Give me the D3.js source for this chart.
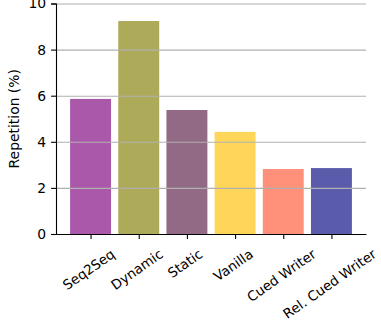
<!DOCTYPE html>
<html>
<head>
<meta charset="utf-8">
<script src="https://cdn.jsdelivr.net/npm/d3@7"></script>
<style>
  body { margin: 0; background: #fff; }
  text { font-family: "DejaVu Sans", sans-serif; fill: #000; }
</style>
</head>
<body>
<div class="canva"></div>
<script>
// chart data
const models = ['Seq2Seq', 'Dynamic', 'Static', 'Vanilla', 'Cued Writer', 'Rel. Cued Writer'];
const repetition = [5.86, 9.24, 5.38, 4.43, 2.82, 2.86];
const barColors = ['#aa58aa', '#adaa5a', '#926a86', '#ffd65a', '#ff917a', '#5a5baa'];
const yTicks = [0, 2, 4, 6, 8, 10];

const W = 381, H = 321;
const m = {left: 56, right: 15, top: 3.5, bottom: 87};
const fs = 13.9;

const svg = d3.select('.canva').append('svg')
  .attr('width', W)
  .attr('height', H);

// matplotlib style: bar width .85 + 5% margins
const bw = 0.85;
const lo = -bw / 2, hi = models.length - 1 + bw / 2, pad = 0.05 * (hi - lo);
const x = d3.scaleLinear().domain([lo - pad, hi + pad]).range([m.left, W - m.right]);
const y = d3.scaleLinear().domain([0, 10]).range([H - m.bottom, m.top]);

// bars
svg.selectAll('rect.bar')
  .data(repetition)
  .enter().append('rect')
  .attr('class', 'bar')
  .attr('x', (d, i) => x(i - bw / 2))
  .attr('width', x(bw) - x(0))
  .attr('y', d => y(d))
  .attr('height', d => y(0) - y(d))
  .attr('fill', (d, i) => barColors[i]);

// grid on top of bars
svg.append('g')
  .attr('transform', `translate(${m.left},0)`)
  .call(d3.axisRight(y).tickValues(yTicks.slice(1)).tickSize(W - m.right - m.left).tickFormat(''))
  .call(g => g.select('.domain').remove())
  .call(g => g.selectAll('line').attr('stroke', '#b0b0b0').attr('stroke-width', 1.1));

// y axis
svg.append('g')
  .attr('transform', `translate(${m.left},0)`)
  .call(d3.axisLeft(y).tickValues(yTicks).tickFormat(d3.format('d')).tickSize(4.9).tickPadding(4.9))
  .call(g => g.selectAll('text').attr('font-size', fs).style('font-family', 'DejaVu Sans'))
  .call(g => g.selectAll('line, path').attr('stroke', '#000').attr('stroke-width', 1.1));

// x axis
svg.append('g')
  .attr('transform', `translate(0,${y(0)})`)
  .call(d3.axisBottom(x).tickValues(d3.range(models.length)).tickFormat('').tickSize(4.9).tickSizeOuter(0))
  .call(g => g.selectAll('line, path').attr('stroke', '#000').attr('stroke-width', 1.1));

// rotated labels, ink box hung under the axis
const deg = 35, ang = deg * Math.PI / 180;
const lfs = 13.5;
models.forEach((name, i) => {
  const t = svg.append('text')
    .attr('font-size', lfs)
    .attr('text-anchor', 'middle')
    .attr('dominant-baseline', 'central')
    .text(name);
  const tw = t.node().getComputedTextLength();
  const ih = tw * Math.sin(ang) + 0.76 * lfs * Math.cos(ang);
  const cy = y(0) + 14 + ih / 2;
  t.attr('transform', `translate(${x(i) - 2},${cy}) rotate(${-deg})`);
});

// y label
svg.append('text')
  .attr('font-size', fs)
  .attr('text-anchor', 'middle')
  .attr('dominant-baseline', 'central')
  .attr('transform', `translate(14,${(y(0) + y(10)) / 2}) rotate(-90)`)
  .text('Repetition (%)');
</script>
</body>
</html>
